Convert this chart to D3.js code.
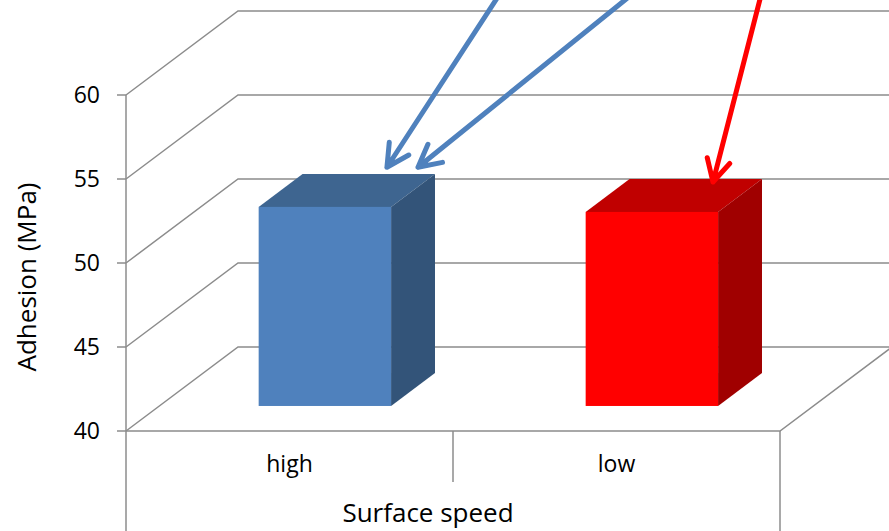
<!DOCTYPE html>
<html>
<head>
<meta charset="utf-8">
<script src="https://cdn.jsdelivr.net/npm/d3@7"></script>
<style>
  body { margin: 0; background: #fff; }
  svg text { font-family: "Open Sans", sans-serif; fill: #000; }
</style>
</head>
<body>
<div id="chart"></div>
<script>
// chart data
const categories = ["high", "low"];
const adhesion = [51.85, 51.55];
const yTicks = [40, 45, 50, 55, 60];
const frontColors = ["#4f81bd", "#ff0000"];
const topColors = ["#3e6590", "#c00000"];
const sideColors = ["#335479", "#a00000"];

// annotation arrows: [category position, value] start and tip
const arrowFrom = [[1.171, 66.85], [1.602, 66.85], [1.954, 66.85]];
const arrowTo = [[0.798, 55.7], [0.893, 55.7], [1.795, 54.82]];
const arrowColors = ["#4f81bd", "#4f81bd", "#ff0000"];

var width = 889, height = 531;
var depthX = 112, depthY = -84;       // back wall offset
var barNear = 0.298, barFar = 0.69;  // bar depth (fraction of floor)

var svg = d3.select("#chart").append("svg")
    .attr("width", width)
    .attr("height", height);

var y = d3.scaleLinear().domain([40, 60]).range([431, 95]);
var x = d3.scaleBand().domain(categories).range([126, 780]);
var xLin = d3.scaleLinear().domain([0, categories.length]).range([126, 780]);

var grey = "#8c8c8c";

// gridlines: side wall diagonal + back wall line
yTicks.forEach((t) => {
    svg.append("path")
        .attr("fill", "none")
        .attr("stroke", grey)
        .attr("stroke-width", 1.5)
        .attr("d", `M${xLin(0)},${y(t)} L${xLin(0) + depthX},${y(t) + depthY} L${width + 20},${y(t) + depthY}`);
});

// floor front and right edges
svg.append("path")
    .attr("fill", "none")
    .attr("stroke", grey)
    .attr("stroke-width", 1.5)
    .attr("d", `M${xLin(0)},${y(40)} L${xLin(2)},${y(40)} L${xLin(2) + depthX},${y(40) + depthY}`);

// y axis
svg.append("line")
    .attr("x1", xLin(0)).attr("x2", xLin(0))
    .attr("y1", y(60)).attr("y2", height)
    .attr("stroke", grey).attr("stroke-width", 1.5);

yTicks.forEach((t) => {
    svg.append("line")
        .attr("x1", xLin(0) - 9).attr("x2", xLin(0))
        .attr("y1", y(t)).attr("y2", y(t))
        .attr("stroke", grey).attr("stroke-width", 1.5);
    svg.append("text")
        .attr("x", 100)
        .attr("y", y(t))
        .attr("dy", "0.36em")
        .attr("text-anchor", "end")
        .style("font-size", "23px")
        .text(t);
});

// category separators
svg.append("line")
    .attr("x1", xLin(1)).attr("x2", xLin(1))
    .attr("y1", y(40)).attr("y2", y(40) + 51)
    .attr("stroke", grey).attr("stroke-width", 1.5);
svg.append("line")
    .attr("x1", xLin(2)).attr("x2", xLin(2))
    .attr("y1", y(40)).attr("y2", height)
    .attr("stroke", grey).attr("stroke-width", 1.5);

// bars (front, top, side faces)
var barW = x.bandwidth() * 0.405;
categories.forEach((c, i) => {
    var v = adhesion[i];
    var x0 = x(c) + (x.bandwidth() - barW) / 2 + depthX * barNear + 2;
    var x1 = x0 + barW;
    var yt = y(v) + depthY * barNear;
    var yb = y(40) + depthY * barNear;
    var dx = depthX * (barFar - barNear), dy = depthY * (barFar - barNear);

    svg.append("path")
        .attr("fill", topColors[i])
        .attr("d", `M${x0},${yt} L${x0 + dx},${yt + dy} L${x1 + dx},${yt + dy} L${x1},${yt} Z`);
    svg.append("path")
        .attr("fill", sideColors[i])
        .attr("d", `M${x1},${yt} L${x1 + dx},${yt + dy} L${x1 + dx},${yb + dy} L${x1},${yb} Z`);
    svg.append("rect")
        .attr("x", x0).attr("y", yt)
        .attr("width", barW).attr("height", yb - yt)
        .attr("fill", frontColors[i]);
});

// category labels
categories.forEach((c) => {
    svg.append("text")
        .attr("x", x(c) + x.bandwidth() / 2)
        .attr("y", 472)
        .attr("text-anchor", "middle")
        .style("font-size", "23px")
        .text(c);
});

// axis titles
svg.append("text")
    .attr("x", 428)
    .attr("y", 522)
    .attr("text-anchor", "middle")
    .style("font-size", "26px")
    .text("Surface speed");

svg.append("text")
    .attr("transform", "translate(36,277) rotate(-90)")
    .attr("text-anchor", "middle")
    .style("font-size", "26px")
    .text("Adhesion (MPa)");

// arrows
arrowFrom.forEach((f, i) => {
    var sx = xLin(f[0]), sy = y(f[1]);
    var tx = xLin(arrowTo[i][0]), ty = y(arrowTo[i][1]);
    var ang = Math.atan2(sy - ty, sx - tx);
    var len = 25, spread = Math.PI / 6.5;
    var ax = tx + len * Math.cos(ang - spread), ay = ty + len * Math.sin(ang - spread);
    var bx = tx + len * Math.cos(ang + spread), by = ty + len * Math.sin(ang + spread);
    svg.append("path")
        .attr("fill", "none")
        .attr("stroke", arrowColors[i])
        .attr("stroke-width", 5)
        .attr("stroke-linecap", "round")
        .attr("stroke-linejoin", "round")
        .attr("d", `M${sx},${sy} L${tx},${ty} M${ax},${ay} L${tx},${ty} L${bx},${by}`);
});
</script>
</body>
</html>
